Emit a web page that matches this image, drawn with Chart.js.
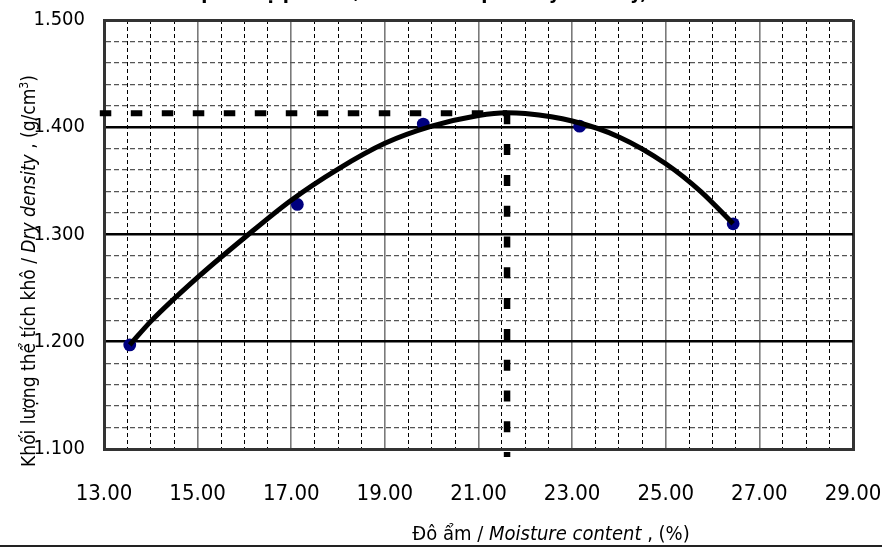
<!DOCTYPE html>
<html>
<head>
<meta charset="utf-8">
<script src="https://cdn.jsdelivr.net/npm/chart.js@4.4.1/dist/chart.umd.min.js"></script>
<style>
    html, body { margin: 0; padding: 0; background: #fff; }
    #wrap { position: relative; width: 882px; height: 548px; overflow: hidden; }
    #wrap canvas { position: absolute; left: 0; top: 0; }
    .lbl { position: absolute; font-family: 'DejaVu Sans Condensed', 'DejaVu Sans', sans-serif; color: #000; white-space: nowrap; }
    #title { left: 60px; width: 820px; top: -20px; font-size: 20px; font-weight: bold; text-align: center; }
    #ytitle { left: -186px; top: 259px; width: 420px; height: 24px; line-height: 24px; font-size: 19px; text-align: center; transform: rotate(-90deg); }
    #xtitle { left: 351px; top: 521px; width: 400px; line-height: 24px; font-size: 20px; text-align: center; }
    #baseline { position: absolute; left: 0; top: 545px; width: 882px; height: 2px; background: #222; }
</style>
</head>
<body>
<div id="wrap">
    <canvas id="compaction" width="882" height="548"></canvas>
    <div class="lbl" id="title">Biểu đồ quan hệ ρd - W / Relationship of dry density, moisture content</div>
    <div class="lbl" id="ytitle">Khối lượng thể tích khô / <i>Dry density</i> , (g/cm<sup style="font-size:12px">3</sup>)</div>
    <div class="lbl" id="xtitle">Đô ẩm / <i>Moisture content</i> , (%)</div>
    <div id="baseline"></div>
</div>
<script>
// --- test results (Proctor compaction) ---
const moisture = [13.55, 17.13, 19.82, 23.16, 26.44];
const dryDensity = [1.197, 1.328, 1.403, 1.401, 1.310];

// --- fitted compaction curve ---
const fitMoisture = [13.55, 14, 15, 16, 17, 18, 19, 20, 21, 21.6, 22, 23, 24, 25, 25.75, 26.44];
const fitDensity = [1.197, 1.219, 1.260, 1.297, 1.332, 1.361, 1.385, 1.401, 1.411, 1.4136, 1.4128, 1.4058, 1.391, 1.366, 1.340, 1.310];

// --- optimum point guides ---
const optMoisture = 21.61;
const maxDensity = 1.413;
const hGuideX = [12.91, optMoisture];
const hGuideY = [maxDensity, maxDensity];
const vGuideX = [optMoisture, optMoisture];
const vGuideY = [maxDensity, 1.0925];

// --- axes ---
const X_MIN = 13, X_MAX = 29, X_STEP = 0.5, X_LABEL_EVERY = 2;
const Y_MIN = 1.1, Y_MAX = 1.5, Y_STEP = 0.02, Y_LABEL_EVERY = 0.1;

const FONT = "'DejaVu Sans Condensed', 'DejaVu Sans', sans-serif";

const toXY = (xs, ys) => xs.map((x, i) => ({ x: x, y: ys[i] }));
const isMultiple = (v, base, step) => {
    const r = (v - base) / step;
    return Math.abs(r - Math.round(r)) < 1e-6;
};
const isEdge = (v, lo, hi) => Math.abs(v - lo) < 1e-6 || Math.abs(v - hi) < 1e-6;

new Chart(document.getElementById('compaction'), {
    type: 'scatter',
    data: {
        datasets: [
            {
                data: toXY(fitMoisture, fitDensity),
                showLine: true, borderColor: '#000', borderWidth: 5,
                pointRadius: 0, cubicInterpolationMode: 'monotone', order: 0
            },
            {
                data: toXY(moisture, dryDensity),
                pointRadius: 6.4, pointBackgroundColor: '#00007f', pointBorderWidth: 0, order: 1
            },
            {
                data: toXY(hGuideX, hGuideY),
                showLine: true, borderColor: '#000', borderWidth: 6, borderDash: [11.5, 19.5],
                borderCapStyle: 'butt', pointRadius: 0, clip: 10, order: 2
            },
            {
                data: toXY(vGuideX, vGuideY),
                showLine: true, borderColor: '#000', borderWidth: 6.5, borderDash: [11, 19.8],
                borderCapStyle: 'butt', pointRadius: 0, clip: 10, order: 2
            }
        ]
    },
    options: {
        responsive: false,
        animation: false,
        layout: { padding: { left: 0, top: 20, right: 29, bottom: 0 } },
        plugins: { legend: { display: false }, tooltip: { enabled: false } },
        scales: {
            x: {
                type: 'linear', min: X_MIN, max: X_MAX,
                afterFit: (scale) => {
                    // fixed band below the plot, and let the end labels overhang
                    scale.height = 99;
                    scale.paddingLeft = 0;
                    scale.paddingRight = 0;
                },
                ticks: {
                    stepSize: X_STEP, autoSkip: false, maxRotation: 0, padding: 32,
                    color: '#000', font: { family: FONT, size: 22 },
                    callback: (v) => isMultiple(v, X_MIN, X_LABEL_EVERY) ? v.toFixed(2) : ''
                },
                grid: {
                    drawTicks: false,
                    color: (ctx) => {
                        const v = ctx.tick.value;
                        if (isEdge(v, X_MIN, X_MAX)) return '#333';
                        return isMultiple(v, X_MIN, X_LABEL_EVERY) ? '#7a7a7a' : '#000';
                    },
                    lineWidth: (ctx) => {
                        const v = ctx.tick.value;
                        if (isEdge(v, X_MIN, X_MAX)) return 3;
                        return isMultiple(v, X_MIN, X_LABEL_EVERY) ? 1.6 : 1;
                    }
                },
                border: {
                    color: '#333', width: 3,
                    dash: (ctx) => {
                        if (!ctx.tick) return [];
                        const v = ctx.tick.value;
                        return (isEdge(v, X_MIN, X_MAX) || isMultiple(v, X_MIN, X_LABEL_EVERY)) ? [] : [4, 3];
                    }
                }
            },
            y: {
                type: 'linear', min: Y_MIN, max: Y_MAX,
                afterFit: (scale) => {
                    scale.width = 104;
                    scale.paddingTop = 0;
                    scale.paddingBottom = 0;
                },
                ticks: {
                    stepSize: Y_STEP, autoSkip: false, padding: 19,
                    color: '#000', font: { family: FONT, size: 20 },
                    callback: (v) => isMultiple(v, Y_MIN, Y_LABEL_EVERY) ? v.toFixed(3) : ''
                },
                grid: {
                    drawTicks: false,
                    color: (ctx) => {
                        const v = ctx.tick.value;
                        if (isEdge(v, Y_MIN, Y_MAX)) return '#333';
                        return isMultiple(v, Y_MIN, Y_LABEL_EVERY) ? '#000' : '#555';
                    },
                    lineWidth: (ctx) => {
                        const v = ctx.tick.value;
                        if (isEdge(v, Y_MIN, Y_MAX)) return 3;
                        return isMultiple(v, Y_MIN, Y_LABEL_EVERY) ? 2.5 : 1.3;
                    }
                },
                border: {
                    color: '#333', width: 3,
                    dash: (ctx) => {
                        if (!ctx.tick) return [];
                        const v = ctx.tick.value;
                        return (isEdge(v, Y_MIN, Y_MAX) || isMultiple(v, Y_MIN, Y_LABEL_EVERY)) ? [] : [5, 3];
                    }
                }
            }
        }
    }
});
</script>
</body>
</html>
